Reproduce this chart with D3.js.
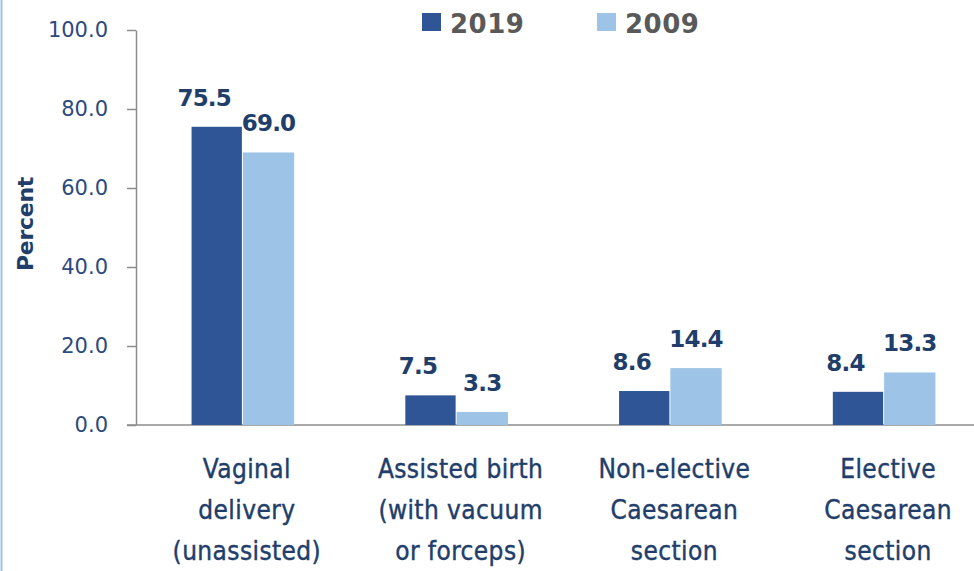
<!DOCTYPE html>
<html>
<head>
<meta charset="utf-8">
<script src="https://cdn.jsdelivr.net/npm/d3@7"></script>
<style>
  body { margin: 0; background: #fff; }
  svg { display: block; }
</style>
</head>
<body>
<div id="chart"></div>
<script>
const categories = [
  ["Vaginal", "delivery", "(unassisted)"],
  ["Assisted birth", "(with vacuum", "or forceps)"],
  ["Non-elective", "Caesarean", "section"],
  ["Elective", "Caesarean", "section"]
];
const seriesNames = ["2019", "2009"];
const values2019 = [75.5, 7.5, 8.6, 8.4];
const values2009 = [69.0, 3.3, 14.4, 13.3];
const yTicks = [0, 20, 40, 60, 80, 100];

const w = 974, h = 571;
const padLeft = 136, padRight = 991, padTop = 30, padBottom = 425;
const colors = ["#2F5597", "#9DC3E6"];
const navy = "#213E6B";

const svg = d3.select("#chart").append("svg")
  .attr("width", w).attr("height", h);

// frame edge on the left
svg.append("line")
  .attr("x1", 1.5).attr("x2", 1.5).attr("y1", 0).attr("y2", h)
  .attr("stroke", "#9DC3E6").attr("stroke-width", 2);

const x = d3.scaleBand()
  .domain(d3.range(categories.length))
  .range([padLeft, padRight])
  .paddingInner(0.52)
  .paddingOuter(0.26);

const x1 = d3.scaleBand()
  .domain(seriesNames)
  .range([0, x.bandwidth()]);

const y = d3.scaleLinear().domain([0, 100]).range([padBottom, padTop]);

// y axis
const yAxis = d3.axisLeft(y)
  .tickValues(yTicks)
  .tickFormat(d3.format(".1f"))
  .tickSize(9)
  .tickSizeOuter(0);

const yg = svg.append("g")
  .attr("transform", `translate(${padLeft},0)`)
  .call(yAxis);
yg.select(".domain").attr("stroke", "#8c8c8c").attr("stroke-width", 1.5);
yg.selectAll(".tick line").attr("stroke", "#8c8c8c").attr("stroke-width", 1.5);
yg.selectAll(".tick text")
  .attr("x", -28)
  .attr("fill", "#2C4A7C")
  .style("font-family", "DejaVu Sans, sans-serif")
  .style("font-size", "21px");

// x axis baseline
svg.append("line")
  .attr("x1", padLeft - 9).attr("x2", w)
  .attr("y1", y(0)).attr("y2", y(0))
  .attr("stroke", "#8c8c8c").attr("stroke-width", 1.5);

// bars
const series = [values2019, values2009];
series.forEach((vals, s) => {
  svg.append("g").selectAll("rect")
    .data(vals)
    .enter().append("rect")
    .attr("x", (d, i) => x(i) + x1(seriesNames[s]))
    .attr("y", d => y(d))
    .attr("width", x1.bandwidth() - (s === 0 ? 1 : 0))
    .attr("height", d => y(0) - y(d))
    .attr("fill", colors[s]);

  svg.append("g").selectAll("text")
    .data(vals)
    .enter().append("text")
    .attr("x", (d, i) => x(i) + x1(seriesNames[s]) + x1.bandwidth() / 2 + (s === 0 ? -13 : 0))
    .attr("y", d => y(d) - 21)
    .attr("text-anchor", "middle")
    .attr("fill", navy)
    .style("font-family", "DejaVu Sans, sans-serif")
    .style("font-weight", "bold")
    .style("font-size", "23px")
    .style("letter-spacing", "-0.8px")
    .text(d => d.toFixed(1));
});

// category labels
const cat = svg.append("g").selectAll("text")
  .data(categories)
  .enter().append("text")
  .attr("text-anchor", "middle")
  .attr("fill", navy)
  .style("font-family", "DejaVu Sans Condensed, DejaVu Sans, sans-serif")
  .style("font-stretch", "condensed")
  .style("font-size", "26px")
  .style("letter-spacing", "0.4px")
  .style("stroke", navy)
  .style("stroke-width", "0.4px");
cat.selectAll("tspan")
  .data((d, i) => d.map(t => ({ t, i })))
  .enter().append("tspan")
  .attr("x", d => x(d.i) + x.bandwidth() / 2 + 4)
  .attr("y", (d, j) => 478 + j * 41)
  .text(d => d.t);

// y axis title
svg.append("text")
  .attr("transform", `translate(33, 224) rotate(-90)`)
  .attr("text-anchor", "middle")
  .attr("fill", navy)
  .style("font-family", "DejaVu Sans, sans-serif")
  .style("font-weight", "bold")
  .style("font-size", "22px")
  .style("letter-spacing", "-0.3px")
  .text("Percent");

// legend
const legendX = [422, 597];
seriesNames.forEach((name, s) => {
  svg.append("rect")
    .attr("x", legendX[s]).attr("y", 13)
    .attr("width", 19).attr("height", 18)
    .attr("fill", colors[s]);
  svg.append("text")
    .attr("x", legendX[s] + 28).attr("y", 33)
    .attr("fill", "#595959")
    .style("font-family", "DejaVu Sans, sans-serif")
    .style("font-weight", "bold")
    .style("font-size", "26px")
    .style("letter-spacing", "0.5px")
    .text(name);
});
</script>
</body>
</html>
